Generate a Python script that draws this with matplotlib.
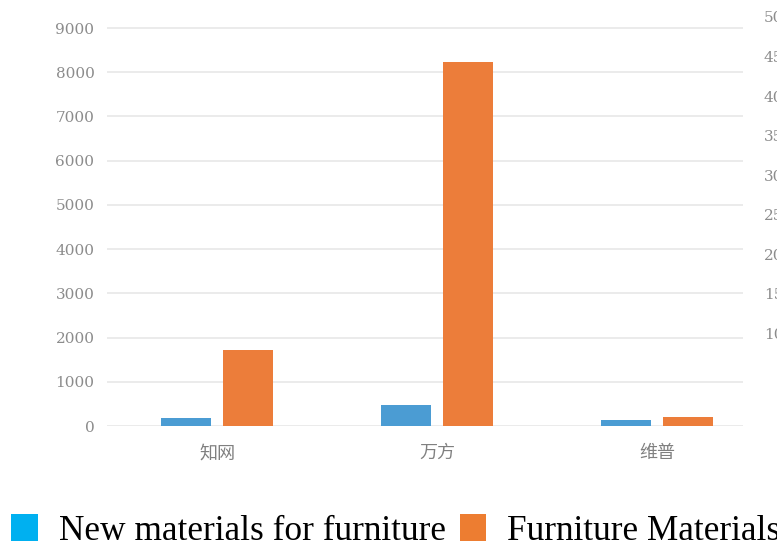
import numpy as np
import matplotlib.pyplot as plt
from matplotlib.patches import Patch

# data
categories = ['知网', '万方', '维普']
new_materials = [170, 480, 140]
furniture_materials = [1720, 8230, 200]
left_ticks = [0, 1000, 2000, 3000, 4000, 5000, 6000, 7000, 8000, 9000]
right_ticks = [10, 15, 20, 25, 30, 35, 40, 45, 50]
legend_labels = ['New materials for furniture', 'Furniture Materials']

fig = plt.figure(figsize=(7.77, 5.49), dpi=100)
W, H = 777, 549
ax = fig.add_axes([107 / W, (H - 426) / H, (743 - 107) / W, (426 - 17) / H])

x = np.arange(len(categories))
width = 0.227
ax.bar(x - 0.141, new_materials, width, color='#4b9cd3', zorder=3)
ax.bar(x + 0.141, furniture_materials, width, color='#ec7d3a', zorder=3)

ax.set_xlim(-0.5, 2.39)
ax.set_ylim(0, 9249)
ax.set_yticks(left_ticks)
ax.set_yticklabels([str(t) for t in left_ticks], family='DejaVu Serif',
                   fontsize=11, color='#8c8c8c')
ax.set_xticks(x)
ax.set_xticklabels(categories, family=['Noto Sans CJK SC', 'DejaVu Sans'],
                   fontsize=13, color='#808080')
ax.tick_params(axis='both', length=0)
ax.tick_params(axis='y', pad=9)
ax.tick_params(axis='x', pad=13)
ax.grid(axis='y', color='#e9e9e9', linewidth=1.3, zorder=0)
for s in ax.spines.values():
    s.set_visible(False)

# partly cut-off secondary axis on the right (cropped in the source image)
ax2 = ax.twinx()
ax2.set_ylim(-1.77, 50)
ax2.set_yticks(right_ticks)
ax2.set_yticklabels([str(t) for t in right_ticks], family='DejaVu Serif',
                    fontsize=11, color='#8c8c8c')
ax2.tick_params(axis='y', length=0, pad=15)
for s in ax2.spines.values():
    s.set_visible(False)

handles = [Patch(facecolor='#00b0f0'), Patch(facecolor='#ed7d31')]
fig.legend(handles, legend_labels, loc='center left',
           bbox_to_anchor=(4 / W, (H - 531) / H), ncol=2, frameon=False,
           prop={'family': 'Liberation Serif', 'size': 25.4},
           handlelength=0.75, handleheight=0.8, handletextpad=0.6,
           columnspacing=0.4, borderaxespad=0, borderpad=0.2)

fig.savefig('out.png', dpi=100)
